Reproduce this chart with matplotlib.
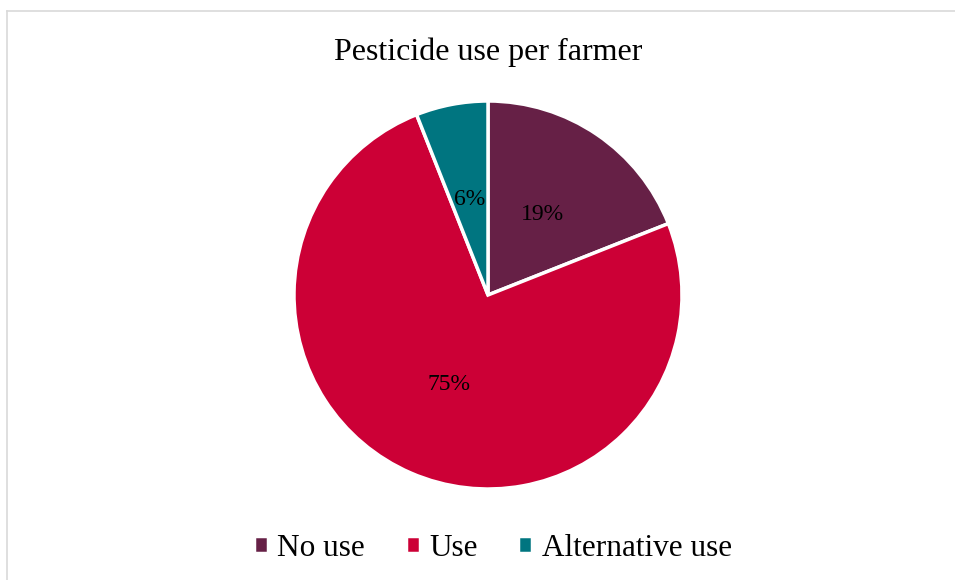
import matplotlib.pyplot as plt
from matplotlib.lines import Line2D

plt.rcParams['font.family'] = ['Liberation Serif', 'DejaVu Serif']

labels = ["No use", "Use", "Alternative use"]
shares = [19, 75, 6]
colors = ["#662046", "#CC0036", "#007580"]

fig = plt.figure(figsize=(9.55, 5.8), dpi=100)

# chart border (runs off the right and bottom edges)
fig.add_artist(Line2D([6.5 / 955, 1.0], [1 - 10.5 / 580] * 2, color="#d9d9d9", lw=1.2))
fig.add_artist(Line2D([6.5 / 955] * 2, [0.0, 1 - 10.5 / 580], color="#d9d9d9", lw=1.2))

cx, cy, r = 488, 295, 194
ax = fig.add_axes([(cx - r) / 955, (580 - cy - r) / 580, 2 * r / 955, 2 * r / 580])
wedges, texts, autotexts = ax.pie(
    shares, colors=colors, startangle=90, counterclock=False,
    autopct="%d%%", pctdistance=0.5,
    wedgeprops=dict(edgecolor="white", linewidth=2.5),
    textprops=dict(fontsize=17, color="black"))
# Excel puts the big slice's label nearer the middle
autotexts[1].set_position((-0.2, -0.46))
ax.set_aspect("equal")
ax.set_xlim(-1, 1)
ax.set_ylim(-1, 1)

fig.text(0.511, 1 - 52 / 580, "Pesticide use per farmer", ha="center", va="center", fontsize=23)

fig.legend(wedges, labels, loc="center", bbox_to_anchor=(0.516, 1 - 548 / 580),
           ncol=3, frameon=False, fontsize=22.5, handlelength=0.45, handleheight=0.45,
           handletextpad=0.3, columnspacing=1.3)

fig.savefig("out.png", dpi=100)
